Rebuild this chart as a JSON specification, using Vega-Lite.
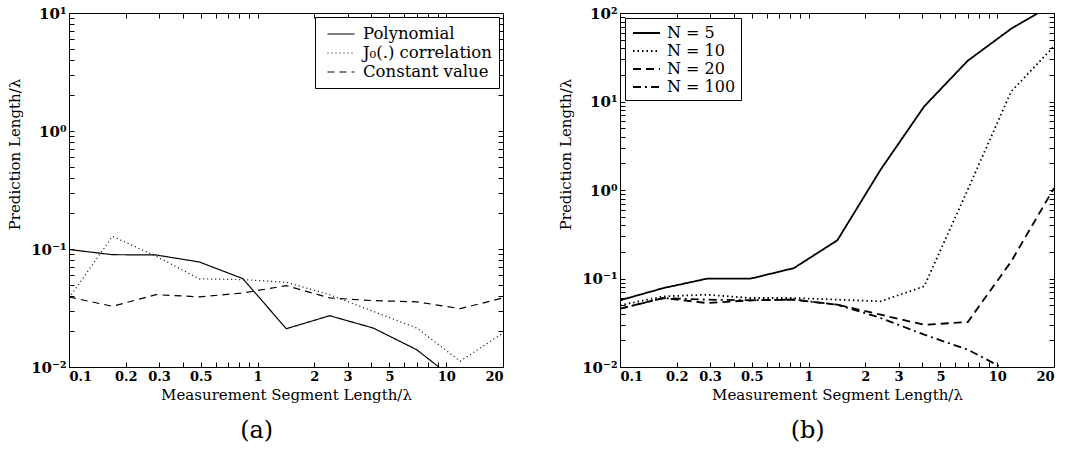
{
  "$schema": "https://vega.github.io/schema/vega-lite/v6.json",
  "padding": {"left": 7, "top": 0, "right": 0, "bottom": 0},
  "spacing": 51,
  "background": "white",
  "datasets": {
    "a": [
      {"series": "Polynomial", "x": 0.1, "y": 0.099},
      {"series": "Polynomial", "x": 0.17, "y": 0.0895},
      {"series": "Polynomial", "x": 0.289, "y": 0.089},
      {"series": "Polynomial", "x": 0.491, "y": 0.0776},
      {"series": "Polynomial", "x": 0.835, "y": 0.0561},
      {"series": "Polynomial", "x": 1.42, "y": 0.0211},
      {"series": "Polynomial", "x": 2.41, "y": 0.0272},
      {"series": "Polynomial", "x": 4.1, "y": 0.0214},
      {"series": "Polynomial", "x": 6.98, "y": 0.014},
      {"series": "Polynomial", "x": 11.86, "y": 0.0072},
      {"series": "J₀(.) correlation", "x": 0.1, "y": 0.0385},
      {"series": "J₀(.) correlation", "x": 0.17, "y": 0.128},
      {"series": "J₀(.) correlation", "x": 0.289, "y": 0.087},
      {"series": "J₀(.) correlation", "x": 0.491, "y": 0.0559},
      {"series": "J₀(.) correlation", "x": 0.835, "y": 0.055},
      {"series": "J₀(.) correlation", "x": 1.42, "y": 0.0522},
      {"series": "J₀(.) correlation", "x": 2.41, "y": 0.041},
      {"series": "J₀(.) correlation", "x": 4.1, "y": 0.0296},
      {"series": "J₀(.) correlation", "x": 6.98, "y": 0.0214},
      {"series": "J₀(.) correlation", "x": 11.86, "y": 0.0112},
      {"series": "J₀(.) correlation", "x": 20, "y": 0.0194},
      {"series": "Constant value", "x": 0.1, "y": 0.0392},
      {"series": "Constant value", "x": 0.17, "y": 0.0327},
      {"series": "Constant value", "x": 0.289, "y": 0.041},
      {"series": "Constant value", "x": 0.491, "y": 0.0393},
      {"series": "Constant value", "x": 0.835, "y": 0.0424},
      {"series": "Constant value", "x": 1.42, "y": 0.0489},
      {"series": "Constant value", "x": 2.41, "y": 0.0385},
      {"series": "Constant value", "x": 4.1, "y": 0.0365},
      {"series": "Constant value", "x": 6.98, "y": 0.0357},
      {"series": "Constant value", "x": 11.86, "y": 0.0312},
      {"series": "Constant value", "x": 20, "y": 0.0385}
    ],
    "b": [
      {"series": "N = 5", "x": 0.1, "y": 0.0567},
      {"series": "N = 5", "x": 0.17, "y": 0.078},
      {"series": "N = 5", "x": 0.289, "y": 0.0995},
      {"series": "N = 5", "x": 0.491, "y": 0.0995},
      {"series": "N = 5", "x": 0.835, "y": 0.131},
      {"series": "N = 5", "x": 1.42, "y": 0.27},
      {"series": "N = 5", "x": 2.41, "y": 1.7},
      {"series": "N = 5", "x": 4.1, "y": 8.8},
      {"series": "N = 5", "x": 6.98, "y": 28.9},
      {"series": "N = 5", "x": 11.86, "y": 66.5},
      {"series": "N = 5", "x": 20, "y": 127},
      {"series": "N = 10", "x": 0.1, "y": 0.0498},
      {"series": "N = 10", "x": 0.17, "y": 0.0628},
      {"series": "N = 10", "x": 0.289, "y": 0.0656},
      {"series": "N = 10", "x": 0.491, "y": 0.0602},
      {"series": "N = 10", "x": 0.835, "y": 0.0602},
      {"series": "N = 10", "x": 1.42, "y": 0.0577},
      {"series": "N = 10", "x": 2.41, "y": 0.0552},
      {"series": "N = 10", "x": 4.1, "y": 0.0816},
      {"series": "N = 10", "x": 6.98, "y": 1.01},
      {"series": "N = 10", "x": 11.86, "y": 13},
      {"series": "N = 10", "x": 20, "y": 42},
      {"series": "N = 20", "x": 0.1, "y": 0.0456},
      {"series": "N = 20", "x": 0.17, "y": 0.0602},
      {"series": "N = 20", "x": 0.289, "y": 0.0528},
      {"series": "N = 20", "x": 0.491, "y": 0.0567},
      {"series": "N = 20", "x": 0.835, "y": 0.0577},
      {"series": "N = 20", "x": 1.42, "y": 0.0506},
      {"series": "N = 20", "x": 2.41, "y": 0.039},
      {"series": "N = 20", "x": 4.1, "y": 0.030},
      {"series": "N = 20", "x": 6.98, "y": 0.0322},
      {"series": "N = 20", "x": 11.86, "y": 0.156},
      {"series": "N = 20", "x": 20, "y": 1.05},
      {"series": "N = 100", "x": 0.1, "y": 0.0456},
      {"series": "N = 100", "x": 0.17, "y": 0.060},
      {"series": "N = 100", "x": 0.289, "y": 0.0577},
      {"series": "N = 100", "x": 0.491, "y": 0.0567},
      {"series": "N = 100", "x": 0.835, "y": 0.0577},
      {"series": "N = 100", "x": 1.42, "y": 0.0506},
      {"series": "N = 100", "x": 2.41, "y": 0.0358},
      {"series": "N = 100", "x": 4.1, "y": 0.0232},
      {"series": "N = 100", "x": 6.98, "y": 0.0157},
      {"series": "N = 100", "x": 11.86, "y": 0.0087}
    ]
  },
  "config": {
    "view": {"stroke": "black", "strokeWidth": 1},
    "font": "DejaVu Serif",
    "axis": {
      "grid": false,
      "domain": false,
      "tickColor": "black",
      "tickSize": -5,
      "tickWidth": 1,
      "labelPadding": 8,
      "labelFont": "DejaVu Serif",
      "labelFontSize": 13,
      "labelFontWeight": "bold",
      "labelColor": "black",
      "titleFont": "DejaVu Serif",
      "titleFontSize": 15,
      "titleFontWeight": "normal",
      "titleColor": "black"
    },
    "axisLeft": {"titlePadding": 8, "labelFontSize": 15, "titleY": 141},
    "legend": {
      "title": null,
      "symbolType": "M-1.5,0L1.5,0",
      "symbolStrokeColor": "black",
      "symbolSize": 324,
      "symbolOffset": 6.5,
      "labelFont": "DejaVu Serif",
      "labelFontSize": 16,
      "labelColor": "black",
      "labelOffset": 10.5,
      "strokeColor": "black",
      "fillColor": "white",
      "padding": 5,
      "rowPadding": -2
    }
  },
  "resolve": {"scale": {"strokeDash": "independent"}, "legend": {"strokeDash": "independent"}},
  "hconcat": [
    {
      "width": 434,
      "height": 354,
      "title": {"text": "(a)", "orient": "bottom", "anchor": "middle", "frame": "bounds", "fontSize": 24, "fontWeight": "normal", "font": "DejaVu Serif", "color": "black", "offset": 17},
      "data": {"name": "a"},
      "layer": [
        {
          "mark": {"type": "line", "clip": true, "color": "black", "strokeWidth": 1.2},
          "encoding": {
            "x": {"field": "x", "type": "quantitative",
              "scale": {"type": "log", "domain": [0.1, 20], "nice": false},
              "axis": {"orient": "bottom", "title": "Measurement Segment Length/λ",
                "values": [0.1,0.2,0.3,0.4,0.5,0.6,0.7,0.8,0.9,1,2,3,4,5,6,7,8,9,10,20],
                "labelExpr": "indexof([0.1,0.2,0.3,0.5,1,2,3,5,10,20], datum.value) >= 0 ? '' + datum.value : ''"}},
            "y": {"field": "y", "type": "quantitative",
              "scale": {"type": "log", "domain": [0.01, 10], "nice": false},
              "axis": {"orient": "left", "title": "Prediction Length/λ",
                "values": [0.01,0.02,0.03,0.04,0.05,0.06,0.07,0.08,0.09,0.1,0.2,0.3,0.4,0.5,0.6,0.7,0.8,0.9,1,2,3,4,5,6,7,8,9,10],
                "labelExpr": "datum.value == 0.01 ? '10⁻²' : datum.value == 0.1 ? '10⁻¹' : datum.value == 1 ? '10⁰' : datum.value == 10 ? '10¹' : ''"}},
            "strokeDash": {"field": "series", "type": "nominal",
              "scale": {"domain": ["Polynomial", "J₀(.) correlation", "Constant value"], "range": [[1, 0], [1, 3], [7, 5]]},
              "legend": {"orient": "top-right", "offset": 4, "symbolStrokeWidth": 1.2, "symbolOffset": 9, "labelOffset": 12, "labelFontSize": 16.5, "padding": 7, "rowPadding": -3}}
          }
        },
        {
          "mark": {"type": "point", "opacity": 0},
          "encoding": {
            "x": {"field": "x", "type": "quantitative",
              "axis": {"orient": "top", "title": null, "labels": false, "minExtent": 0, "maxExtent": 0,
                "values": [0.1,0.2,0.3,0.4,0.5,0.6,0.7,0.8,0.9,1,2,3,4,5,6,7,8,9,10,20]}},
            "y": {"field": "y", "type": "quantitative",
              "axis": {"orient": "right", "title": null, "labels": false, "minExtent": 0, "maxExtent": 0,
                "values": [0.01,0.02,0.03,0.04,0.05,0.06,0.07,0.08,0.09,0.1,0.2,0.3,0.4,0.5,0.6,0.7,0.8,0.9,1,2,3,4,5,6,7,8,9,10]}}
          }
        }
      ],
      "resolve": {"axis": {"x": "independent", "y": "independent"}}
    },
    {
      "width": 434,
      "height": 354,
      "title": {"text": "(b)", "orient": "bottom", "anchor": "middle", "frame": "bounds", "fontSize": 24, "fontWeight": "normal", "font": "DejaVu Serif", "color": "black", "offset": 17},
      "data": {"name": "b"},
      "layer": [
        {
          "mark": {"type": "line", "clip": true, "color": "black", "strokeWidth": 1.8},
          "encoding": {
            "x": {"field": "x", "type": "quantitative",
              "scale": {"type": "log", "domain": [0.1, 20], "nice": false},
              "axis": {"orient": "bottom", "title": "Measurement Segment Length/λ",
                "values": [0.1,0.2,0.3,0.4,0.5,0.6,0.7,0.8,0.9,1,2,3,4,5,6,7,8,9,10,20],
                "labelExpr": "indexof([0.1,0.2,0.3,0.5,1,2,3,5,10,20], datum.value) >= 0 ? '' + datum.value : ''"}},
            "y": {"field": "y", "type": "quantitative",
              "scale": {"type": "log", "domain": [0.01, 100], "nice": false},
              "axis": {"orient": "left", "title": "Prediction Length/λ",
                "values": [0.01,0.02,0.03,0.04,0.05,0.06,0.07,0.08,0.09,0.1,0.2,0.3,0.4,0.5,0.6,0.7,0.8,0.9,1,2,3,4,5,6,7,8,9,10,20,30,40,50,60,70,80,90,100],
                "labelExpr": "datum.value == 0.01 ? '10⁻²' : datum.value == 0.1 ? '10⁻¹' : datum.value == 1 ? '10⁰' : datum.value == 10 ? '10¹' : datum.value == 100 ? '10²' : ''"}},
            "strokeDash": {"field": "series", "type": "nominal",
              "scale": {"domain": ["N = 5", "N = 10", "N = 20", "N = 100"], "range": [[1, 0], [1.5, 3], [8, 5], [8, 4, 2, 4]]},
              "legend": {"orient": "top-left", "offset": 5, "symbolStrokeWidth": 1.8}}
          }
        },
        {
          "mark": {"type": "point", "opacity": 0},
          "encoding": {
            "x": {"field": "x", "type": "quantitative",
              "axis": {"orient": "top", "title": null, "labels": false, "minExtent": 0, "maxExtent": 0,
                "values": [0.1,0.2,0.3,0.4,0.5,0.6,0.7,0.8,0.9,1,2,3,4,5,6,7,8,9,10,20]}},
            "y": {"field": "y", "type": "quantitative",
              "axis": {"orient": "right", "title": null, "labels": false, "minExtent": 0, "maxExtent": 0,
                "values": [0.01,0.02,0.03,0.04,0.05,0.06,0.07,0.08,0.09,0.1,0.2,0.3,0.4,0.5,0.6,0.7,0.8,0.9,1,2,3,4,5,6,7,8,9,10,20,30,40,50,60,70,80,90,100]}}
          }
        }
      ],
      "resolve": {"axis": {"x": "independent", "y": "independent"}}
    }
  ]
}
